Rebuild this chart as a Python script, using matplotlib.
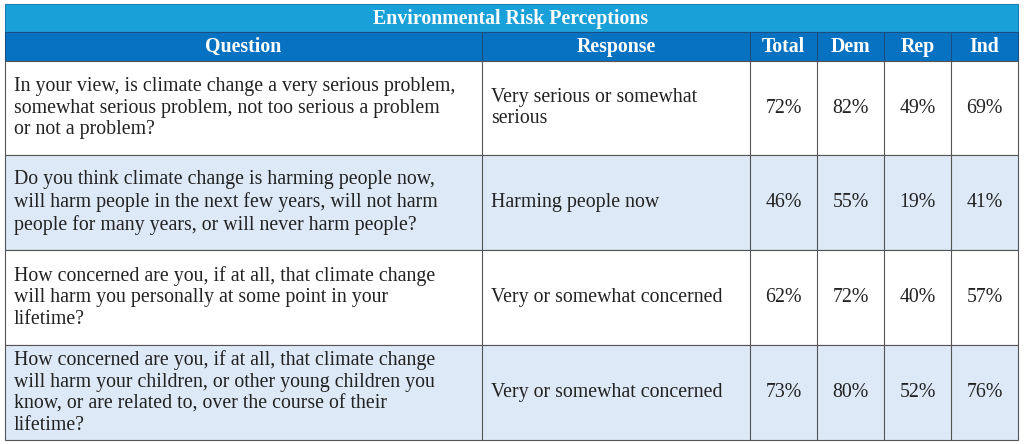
import matplotlib.pyplot as plt
from matplotlib.patches import Rectangle

title = "Environmental Risk Perceptions"
headers = ["Question", "Response", "Total", "Dem", "Rep", "Ind"]
questions = [
    "In your view, is climate change a very serious problem,\nsomewhat serious problem, not too serious a problem\nor not a problem?",
    "Do you think climate change is harming people now,\nwill harm people in the next few years, will not harm\npeople for many years, or will never harm people?",
    "How concerned are you, if at all, that climate change\nwill harm you personally at some point in your\nlifetime?",
    "How concerned are you, if at all, that climate change\nwill harm your children, or other young children you\nknow, or are related to, over the course of their\nlifetime?",
]
responses = ["Very serious or somewhat\nserious", "Harming people now",
             "Very or somewhat concerned", "Very or somewhat concerned"]
total = ["72%", "46%", "62%", "73%"]
dem = ["82%", "55%", "72%", "80%"]
rep = ["49%", "19%", "40%", "52%"]
ind = ["69%", "41%", "57%", "76%"]

plt.rcParams['font.family'] = ['Liberation Serif', 'DejaVu Serif']

fig = plt.figure(figsize=(10.24, 4.44), dpi=100)
ax = fig.add_axes([0, 0, 1, 1])
ax.set_xlim(0, 1024)
ax.set_ylim(444, 0)
ax.axis('off')

col_x = [5, 482, 750, 817, 884, 951, 1018]
row_y = [61, 155, 250, 345, 440]
border = '#555555'
fs = 14.3

# title bar and header row
ax.add_patch(Rectangle((5, 4), 1013, 28, facecolor='#1aa0d8', edgecolor='#1a7fb0', lw=0.8))
ax.text(511, 19, title, ha='center', va='center', color='white', fontsize=fs, fontweight='bold')
ax.add_patch(Rectangle((5, 32), 1013, 29, facecolor='#0872c2', edgecolor='#1a4f80', lw=0.8))
for i, h in enumerate(headers):
    ax.text((col_x[i] + col_x[i + 1]) / 2, 47, h, ha='center', va='center',
            color='white', fontsize=fs, fontweight='bold')
for x in col_x[1:-1]:
    ax.plot([x, x], [32, 61], color='#1a4f80', lw=0.8)

# body rows
cols = [total, dem, rep, ind]
for r in range(len(questions)):
    y0, y1 = row_y[r], row_y[r + 1]
    ym = (y0 + y1) / 2
    fc = 'white' if r % 2 == 0 else '#dde9f7'
    ax.add_patch(Rectangle((5, y0), 1013, y1 - y0, facecolor=fc, edgecolor=border, lw=0.8))
    for x in col_x[1:-1]:
        ax.plot([x, x], [y0, y1], color=border, lw=0.8)
    ax.text(14, ym, questions[r], ha='left', va='center', fontsize=fs,
            color='#222222', linespacing=1.2)
    ax.text(491, ym, responses[r], ha='left', va='center', fontsize=fs,
            color='#222222', linespacing=1.2)
    for c, vals in enumerate(cols):
        ax.text((col_x[c + 2] + col_x[c + 3]) / 2, ym, vals[r], ha='center',
                va='center', fontsize=fs, color='#222222')

fig.savefig('out.png', dpi=100)
